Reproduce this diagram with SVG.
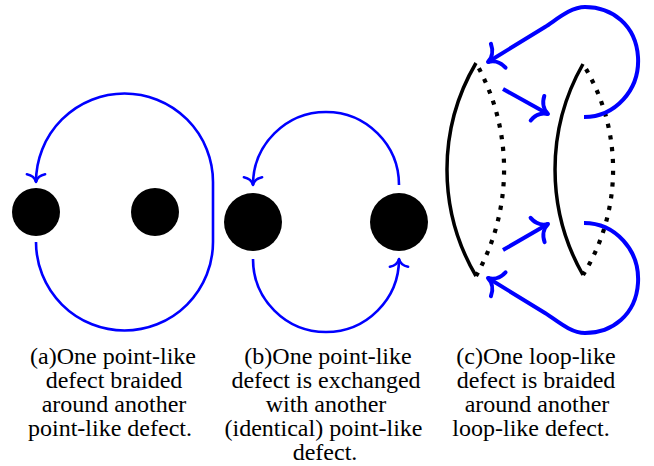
<svg xmlns="http://www.w3.org/2000/svg" width="654" height="466" viewBox="0 0 654 466">
<style>
.defect{fill:#000;}
.loop{fill:none;stroke:#000;stroke-width:3.5;}
.dot{fill:none;stroke:#000;stroke-width:4.2;stroke-dasharray:4.2 7.6;stroke-dashoffset:-6;}
.path{fill:none;stroke:#0000ff;stroke-linecap:butt;marker-end:url(#to);}
.thin{stroke-width:2.6;}
.thick{stroke-width:4;}
.cap{font-family:"Liberation Serif","Times New Roman",serif;font-size:24px;fill:#000;text-anchor:middle;}
</style>
<defs>
<marker id="to" markerUnits="strokeWidth" orient="auto" overflow="visible" refX="0" refY="0" markerWidth="1" markerHeight="1">
<path d="M -3 -3.5 C -2.6 -1.4 -1.2 -0.3 0 0 C -1.2 0.3 -2.6 1.4 -3 3.5" fill="none" stroke="#0000ff" stroke-width="1" stroke-linecap="round" stroke-linejoin="round"/>
</marker>
</defs>

<g id="a-defect-left"><circle class="defect" cx="36" cy="212" r="24"/></g>
<g id="a-defect-right"><circle class="defect" cx="155" cy="212" r="24"/></g>
<g id="b-defect-left"><circle class="defect" cx="253" cy="222" r="29"/></g>
<g id="b-defect-right"><circle class="defect" cx="399" cy="222" r="29"/></g>
<g id="c-loop-left">
<path class="loop" d="M 476 63 A 210 210 0 0 0 476 276"/>
<path class="dot" d="M 476 63 A 216 216 0 0 1 476 276"/>
</g>
<g id="c-loop-right">
<path class="loop" d="M 583 64 A 213 213 0 0 0 583 275"/>
<path class="dot" d="M 583 64 A 200 200 0 0 1 583 275"/>
</g>

<g id="connectors">
<path class="path thin" d="M 36 242 A 88.5 88.5 0 0 0 213 242 L 213 182 A 88.5 88.5 0 0 0 36 182"/>
<path class="path thin" d="M 399 185 A 73 73 0 0 0 253 185"/>
<path class="path thin" d="M 253 259 A 73 73 0 0 0 399 259"/>
<path class="path thick" d="M 584 117 C 615 117 640 90 638 57 C 636 25 612 7 585 7 C 570 7 555 21 545 27 L 488 62"/>
<path class="path thick" d="M 584 223 C 615 223 640 250 638 283 C 636 315 612 333 585 333 C 570 333 555 319 545 313 L 488 278"/>
<path class="path thick" d="M 503 89 L 548 114"/>
<path class="path thick" d="M 503 250 L 548 224"/>
</g>

<g id="captions">
<text class="cap" x="113" y="364">(a)One point-like</text>
<text class="cap" x="114" y="388">defect braided</text>
<text class="cap" x="114" y="412">around another</text>
<text class="cap" x="110" y="436">point-like defect.</text>

<text class="cap" x="328" y="364">(b)One point-like</text>
<text class="cap" x="326" y="388">defect is exchanged</text>
<text class="cap" x="326" y="412">with another</text>
<text class="cap" x="323.5" y="436">(identical) point-like</text>
<text class="cap" x="325" y="460">defect.</text>

<text class="cap" x="536" y="364">(c)One loop-like</text>
<text class="cap" x="536" y="388">defect is braided</text>
<text class="cap" x="537" y="412">around another</text>
<text class="cap" x="531" y="436">loop-like defect.</text>
</g>
</svg>
